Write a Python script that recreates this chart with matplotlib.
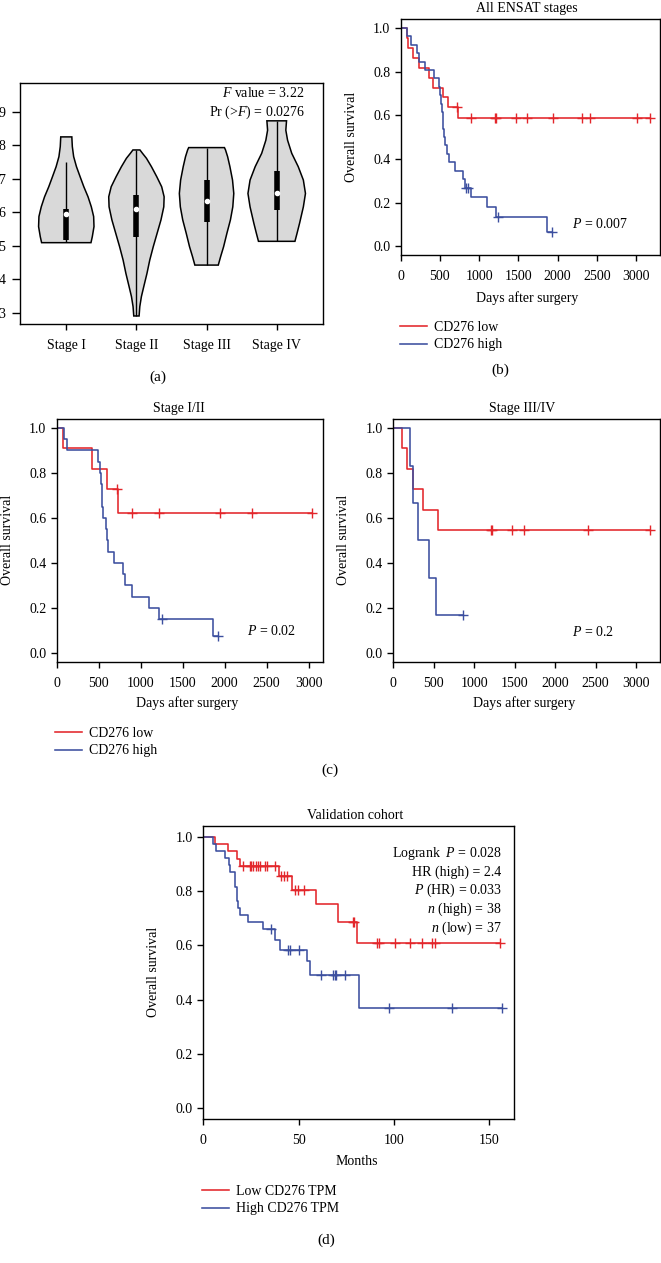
import numpy as np
import matplotlib
matplotlib.use("Agg")
import matplotlib.pyplot as plt

plt.rcParams['font.family'] = ['Liberation Serif', 'DejaVu Serif']
plt.rcParams['mathtext.fontset'] = 'custom'
plt.rcParams['mathtext.rm'] = 'Liberation Serif'
plt.rcParams['mathtext.it'] = 'Liberation Serif:italic'
plt.rcParams['font.size'] = 10

RED = '#e3262b'
BLUE = '#3c4f9f'
W, H = 661, 1263

# ---- panel (a): violin outlines ----
stages = ['Stage I', 'Stage II', 'Stage III', 'Stage IV']
violin_levels = [
    [5.09, 5.27, 5.57, 5.87, 6.16, 6.46, 6.76, 7.06, 7.36, 7.66, 7.96, 8.25],
    [2.90, 3.18, 3.48, 3.78, 4.17, 4.57, 4.97, 5.37, 5.77, 6.16, 6.46, 6.76, 7.06, 7.36, 7.61, 7.76, 7.86],
    [4.42, 4.67, 4.97, 5.37, 5.77, 6.16, 6.56, 6.96, 7.36, 7.66, 7.86, 7.93],
    [5.13, 5.37, 5.67, 6.16, 6.56, 6.96, 7.36, 7.76, 8.15, 8.45, 8.73],
]
violin_halfwidth = [
    [0.352, 0.371, 0.395, 0.39, 0.357, 0.31, 0.25, 0.197, 0.145, 0.105, 0.086, 0.079],
    [0.038, 0.048, 0.071, 0.105, 0.15, 0.19, 0.24, 0.295, 0.35, 0.39, 0.395, 0.36, 0.29, 0.214, 0.143, 0.086, 0.05],
    [0.167, 0.2, 0.243, 0.29, 0.34, 0.374, 0.388, 0.37, 0.333, 0.3, 0.27, 0.255],
    [0.26, 0.29, 0.326, 0.38, 0.41, 0.38, 0.307, 0.214, 0.155, 0.13, 0.14],
]
q1 = [5.17, 5.25, 5.72, 6.08]
q3 = [6.09, 6.51, 6.96, 7.23]
medians = [5.95, 6.09, 6.34, 6.58]
whisk_lo = [5.12, 2.90, 4.42, 5.13]
whisk_hi = [7.49, 7.86, 7.93, 8.73]

# ---- panel (b): all ENSAT stages (days) ----
b_low_t = [0, 76, 97, 161, 233, 365, 416, 544, 607, 726]
b_low_s = [1.0, 0.955, 0.909, 0.864, 0.818, 0.773, 0.727, 0.682, 0.636, 0.587]
b_low_c = [715, 892, 1200, 1215, 1466, 1615, 1938, 2316, 2413, 3008, 3178]
b_high_t = [0, 85, 127, 203, 233, 310, 429, 492, 501, 512, 522, 533, 544,
            556, 570, 590, 616, 692, 798, 820, 892, 1096, 1211, 1870]
b_high_s = [1.0, 0.962, 0.923, 0.885, 0.846, 0.808, 0.769, 0.731, 0.692, 0.654, 0.615, 0.577,
            0.538, 0.5, 0.462, 0.423, 0.385, 0.346, 0.308, 0.269, 0.224, 0.179, 0.134, 0.067]
b_high_c = [830, 857, 1245, 1928]

# ---- panel (c): stage I/II and III/IV (days) ----
c1_low_t = [0, 79, 417, 596, 728]
c1_low_s = [1.0, 0.909, 0.818, 0.727, 0.623]
c1_low_c = [720, 893, 1224, 1950, 2331, 3046]
c1_high_t = [0, 87, 119, 496, 516, 524, 536, 544, 556, 584, 604, 615, 687, 794, 814, 894, 1104, 1224, 1867]
c1_high_s = [1.0, 0.95, 0.9, 0.85, 0.8, 0.75, 0.7, 0.65, 0.6, 0.55, 0.5, 0.45,
             0.4, 0.35, 0.3, 0.25, 0.2, 0.15, 0.075]
c1_high_c = [1259, 1927]

c2_low_t = [0, 103, 165, 239, 363, 556]
c2_low_s = [1.0, 0.909, 0.818, 0.727, 0.636, 0.545]
c2_low_c = [1207, 1224, 1463, 1615, 2402, 3178]
c2_high_t = [0, 206, 239, 309, 445, 527]
c2_high_s = [1.0, 0.833, 0.667, 0.5, 0.333, 0.167]
c2_high_c = [865]

# ---- panel (d): validation cohort (months) ----
d_low_t = [0, 6.1, 13.2, 17.5, 19.3, 39.9, 46.4, 59.2, 70.9, 80.5]
d_low_s = [1.0, 0.973, 0.946, 0.919, 0.892, 0.854, 0.805, 0.750, 0.685, 0.608]
d_low_c = [21.0, 24.3, 25.0, 26.0, 27.8, 28.8, 29.8, 32.4, 33.3, 37.6, 40.8, 42.5, 44.1,
           48.0, 49.8, 53.0, 78.4, 79.3, 91.2, 92.0, 100.7, 108.5, 114.6, 119.9, 121.3, 155.8]
d_high_t = [0, 5.3, 6.5, 11.6, 13.3, 14.2, 16.5, 17.5, 18.4, 19.4, 23.2, 31.4, 37.4, 40.4, 54.4, 56.2, 81.5]
d_high_s = [1.0, 0.974, 0.947, 0.921, 0.895, 0.868, 0.816, 0.763, 0.737, 0.711, 0.684,
            0.658, 0.620, 0.583, 0.540, 0.490, 0.367]
d_high_c = [35.6, 44.3, 45.7, 50.1, 62.0, 68.3, 69.0, 69.5, 74.5, 97.2, 130.4, 156.7]


fig = plt.figure(figsize=(W / 100, H / 100), dpi=100)


def px_axes(x0, y0, x1, y1):
    return fig.add_axes([x0 / W, 1 - y1 / H, (x1 - x0) / W, (y1 - y0) / H])


def style(ax):
    for sp in ax.spines.values():
        sp.set_linewidth(1.0)
    ax.tick_params(direction='out', length=4.5, width=1.0, labelsize=10, pad=3)
    ax.tick_params(axis='x', pad=6.5)


def km(ax, t, s, cens, color):
    t = np.asarray(t, float)
    s = np.asarray(s, float)
    t_end = max(t[-1], max(cens))
    ax.step(np.append(t, t_end), np.append(s, s[-1]), where='post', color=color, lw=1.15)
    idx = np.searchsorted(t, cens, side='right') - 1
    ax.plot(cens, s[idx], '+', color=color, ms=7, mew=1.0, ls='none')


def km_axes(ax, xmax, xticks, title, title_x, xlabel):
    style(ax)
    ax.set_xlim(0, xmax)
    ax.set_ylim(-0.04, 1.04)
    ax.set_xticks(xticks)
    ax.set_yticks([0, 0.2, 0.4, 0.6, 0.8, 1.0])
    ax.set_yticklabels(['0.0', '0.2', '0.4', '0.6', '0.8', '1.0'])
    ax.set_title(title, fontsize=10, x=title_x, pad=5)
    ax.set_xlabel(xlabel, fontsize=10)
    ax.xaxis.label.set_va('center')
    ax.yaxis.label.set_va('center')
    ax.set_ylabel('Overall survival', fontsize=10)


def add_legend(handles, labels, x_px, y_px):
    fig.legend(handles, labels, loc='upper left', bbox_to_anchor=(x_px / W, 1 - y_px / H),
               frameon=False, borderpad=0, borderaxespad=0, handlelength=1.94,
               handletextpad=0.5, labelspacing=0.32, fontsize=10)


# ---- (a) ----
ax = px_axes(20, 83, 323, 324)
style(ax)
ax.tick_params(axis='y', length=5.5, pad=5)
for i in range(4):
    x = i + 1
    yv = np.array(violin_levels[i])
    wv = np.array(violin_halfwidth[i])
    ax.fill(np.concatenate([x - wv, (x + wv)[::-1]]), np.concatenate([yv, yv[::-1]]),
            facecolor='#d9d9d9', edgecolor='black', lw=1.1, zorder=1)
    ax.vlines(x, whisk_lo[i], whisk_hi[i], color='black', lw=1.0, zorder=2)
    ax.vlines(x, q1[i], q3[i], color='black', lw=4.0, zorder=3)
    ax.plot(x, medians[i], 'o', color='white', ms=3.0, mec='white', zorder=4)
ax.set_xlim(0.34, 4.66)
ax.set_ylim(2.66, 9.86)
ax.set_xticks([1, 2, 3, 4])
ax.set_xticklabels(stages)
ax.set_yticks(range(3, 10))
ax.text(0.94, 0.9585, r'$F$ value = 3.22', transform=ax.transAxes, ha='right', va='center')
ax.text(0.94, 0.88, r'Pr (>$F$) = 0.0276', transform=ax.transAxes, ha='right', va='center')
fig.text(158 / W, 1 - 377 / H, '(a)', ha='center', va='center', fontsize=11)

# ---- (b) ----
ax = px_axes(400.7, 19.3, 660, 255)
km(ax, b_low_t, b_low_s, b_low_c, RED)
km(ax, b_high_t, b_high_s, b_high_c, BLUE)
km_axes(ax, 3306, [0, 500, 1000, 1500, 2000, 2500, 3000], 'All ENSAT stages', 0.487, 'Days after surgery')
ax.xaxis.set_label_coords(0.487, -43 / 235.7)
ax.yaxis.set_label_coords(-48.7 / 259.3, 0.5)
ax.text(2180, 0.10, r'$P$ = 0.007', ha='left', va='center')
lg = ax.get_lines()
add_legend([lg[0], lg[2]], ['CD276 low', 'CD276 high'], 400, 321)
fig.text(500 / W, 1 - 370 / H, '(b)', ha='center', va='center', fontsize=11)

# ---- (c) left ----
ax = px_axes(56.7, 419, 322.7, 661.7)
km(ax, c1_low_t, c1_low_s, c1_low_c, RED)
km(ax, c1_high_t, c1_high_s, c1_high_c, BLUE)
km_axes(ax, 3168, [0, 500, 1000, 1500, 2000, 2500, 3000], 'Stage I/II', 0.461, 'Days after surgery')
ax.xaxis.set_label_coords((186.7 - 56.7) / 266, -41.3 / 242.7)
ax.yaxis.set_label_coords(-49.4 / 266, 0.5)
ax.text(2264, 0.097, r'$P$ = 0.02', ha='left', va='center')
lg = ax.get_lines()
add_legend([lg[0], lg[2]], ['CD276 low', 'CD276 high'], 55, 727)

# ---- (c) right ----
ax = px_axes(393.3, 419, 660, 661.7)
km(ax, c2_low_t, c2_low_s, c2_low_c, RED)
km(ax, c2_high_t, c2_high_s, c2_high_c, BLUE)
km_axes(ax, 3296, [0, 500, 1000, 1500, 2000, 2500, 3000], 'Stage III/IV', 0.484, 'Days after surgery')
ax.xaxis.set_label_coords((523.8 - 393.3) / 266.7, -41.3 / 242.7)
ax.yaxis.set_label_coords(-50 / 266.7, 0.5)
ax.text(2205, 0.09, r'$P$ = 0.2', ha='left', va='center')
fig.text(330 / W, 1 - 770 / H, '(c)', ha='center', va='center', fontsize=11)

# ---- (d) ----
ax = px_axes(203.3, 825.7, 514, 1119)
km(ax, d_low_t, d_low_s, d_low_c, RED)
km(ax, d_high_t, d_high_s, d_high_c, BLUE)
km_axes(ax, 163, [0, 50, 100, 150], 'Validation cohort', 0.488, 'Months')
ax.xaxis.set_label_coords((356.7 - 203.3) / 310.7, -42.7 / 293.3)
ax.yaxis.set_label_coords(-50 / 310.7, 0.5)
stats_d = [r'Logrank  $P$ = 0.028', 'HR (high) = 2.4', r'$P$ (HR) = 0.033',
           r'$n$ (high) = 38', r'$n$ (low) = 37']
stats_y = [0.906, 0.841, 0.778, 0.715, 0.650]
for s, y in zip(stats_d, stats_y):
    ax.text(0.9604, y, s, transform=ax.transAxes, ha='right', va='center')
lg = ax.get_lines()
add_legend([lg[0], lg[2]], ['Low CD276 TPM', 'High CD276 TPM'], 202, 1185)
fig.text(326.7 / W, 1 - 1240 / H, '(d)', ha='center', va='center', fontsize=11)

fig.savefig('out.png', dpi=100)
